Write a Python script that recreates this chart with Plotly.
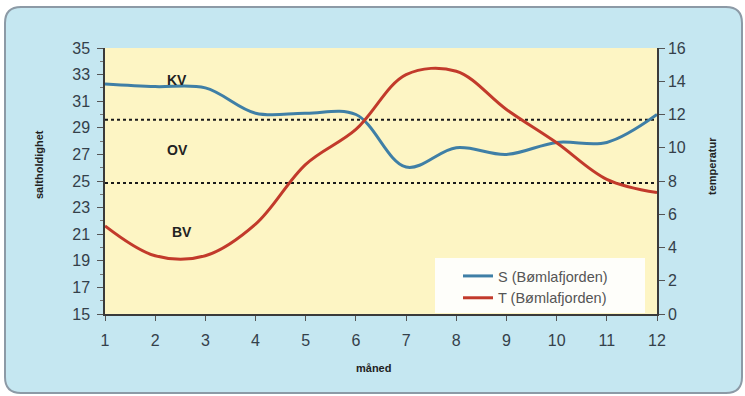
import plotly.graph_objects as go

# Monthly profiles for Bømlafjorden
months = [1, 2, 3, 4, 5, 6, 7, 8, 9, 10, 11, 12]
salinity = [32.3, 32.1, 32.0, 30.1, 30.1, 30.0, 26.05, 27.5, 27.0, 27.9, 27.9, 30.0]
temperature = [5.3, 3.5, 3.5, 5.4, 9.0, 11.1, 14.4, 14.6, 12.3, 10.3, 8.1, 7.3]

# Water-layer boundaries (salinity) and layer labels
layer_bounds = [29.6, 24.85]
layer_names = ["KV", "OV", "BV"]
layer_label_x = [2.44, 2.44, 2.54]
layer_label_y = [32.6, 27.3, 21.2]

W, H = 745, 396
L, R, T, B = 105, 657, 48, 314  # plot area in pixels


def px_x(p):
    return (p - L) / (R - L)


def px_y(p):
    return (B - p) / (B - T)


def rounded_rect(x0, y0, x1, y1, r):
    return (
        f"M {px_x(x0 + r)} {px_y(y0)} L {px_x(x1 - r)} {px_y(y0)} "
        f"Q {px_x(x1)} {px_y(y0)} {px_x(x1)} {px_y(y0 + r)} "
        f"L {px_x(x1)} {px_y(y1 - r)} "
        f"Q {px_x(x1)} {px_y(y1)} {px_x(x1 - r)} {px_y(y1)} "
        f"L {px_x(x0 + r)} {px_y(y1)} "
        f"Q {px_x(x0)} {px_y(y1)} {px_x(x0)} {px_y(y1 - r)} "
        f"L {px_x(x0)} {px_y(y0 + r)} "
        f"Q {px_x(x0)} {px_y(y0)} {px_x(x0 + r)} {px_y(y0)} Z"
    )


fig = go.Figure()

for yb in layer_bounds:
    fig.add_trace(go.Scatter(
        x=[months[0], months[-1]], y=[yb, yb], mode="lines",
        line=dict(color="#1a1a1a", width=2, dash="dot"),
        showlegend=False, hoverinfo="skip",
    ))

fig.add_trace(go.Scatter(
    x=months, y=salinity, mode="lines", name="S (Bømlafjorden)",
    line=dict(color="#3f7fa6", width=3, shape="spline", smoothing=1.0),
))
fig.add_trace(go.Scatter(
    x=months, y=temperature, mode="lines", name="T (Bømlafjorden)",
    yaxis="y2",
    line=dict(color="#c23a2b", width=3, shape="spline", smoothing=1.0),
))

for name, lx, ly in zip(layer_names, layer_label_x, layer_label_y):
    fig.add_annotation(
        x=lx, y=ly, text=f"<b>{name}</b>", showarrow=False,
        font=dict(family="Liberation Sans, Arial", size=14, color="#222222"),
    )

axis_font = dict(family="Liberation Sans, Arial", size=11, color="#222222")
axis_titles = [("<b>saltholdighet</b>", 39, 165, -90),
               ("<b>temperatur</b>", 712, 166, -90),
               ("<b>måned</b>", 373, 368, 0)]
for text, ax_px, ay_px, angle in axis_titles:
    fig.add_annotation(xref="paper", yref="paper", x=px_x(ax_px), y=px_y(ay_px),
                       xanchor="center", yanchor="middle",
                       text=text, textangle=angle, showarrow=False, font=axis_font)

# Card background, plot-area fill and legend panel
fig.add_shape(type="path", xref="paper", yref="paper", layer="below",
              path=rounded_rect(5, 7, 742, 393, 16),
              fillcolor="#c5e7f1", line=dict(color="#8c9aa6", width=2))
fig.add_shape(type="rect", xref="paper", yref="paper", layer="below",
              x0=0, x1=1, y0=0, y1=1,
              fillcolor="#fdf5c4", line=dict(width=0))
fig.add_shape(type="rect", xref="paper", yref="paper", layer="below",
              x0=px_x(435), x1=px_x(645), y0=px_y(313), y1=px_y(258),
              fillcolor="#fefefa", line=dict(width=0))

tick_font = dict(family="Liberation Sans, Arial", size=16, color="#34404a")
fig.update_layout(
    width=W, height=H,
    margin=dict(l=L, r=W - R, t=T, b=H - B),
    paper_bgcolor="white",
    plot_bgcolor="rgba(0,0,0,0)",
    xaxis=dict(range=[1, 12], dtick=1, tick0=1, showgrid=False, zeroline=False,
               showline=True, linecolor="#3a3a3a", linewidth=1.5,
               ticks="outside", ticklen=5, tickcolor="#555555",
               ticklabelstandoff=6, tickfont=tick_font),
    yaxis=dict(range=[15, 35], dtick=2, tick0=15, showgrid=False, zeroline=False,
               showline=True, linecolor="#3a3a3a", linewidth=1.5,
               ticks="outside", ticklen=6, tickcolor="#555555",
               minor=dict(ticks="outside", ticklen=3, dtick=1, tick0=15, tickcolor="#777777"),
               ticklabelstandoff=4, tickfont=tick_font),
    yaxis2=dict(range=[0, 16], dtick=2, tick0=0, overlaying="y", side="right",
                showgrid=False, zeroline=False,
                showline=True, linecolor="#3a3a3a", linewidth=1.5,
                ticks="outside", ticklen=6, tickcolor="#555555",
                tickfont=tick_font),
    legend=dict(x=px_x(458), y=px_y(260), xanchor="left", yanchor="top",
                bgcolor="rgba(0,0,0,0)", borderwidth=0,
                font=dict(family="Liberation Sans, Arial", size=14.5, color="#555555"),
                itemwidth=30),
    showlegend=True,
)

fig.write_html("out.html")
